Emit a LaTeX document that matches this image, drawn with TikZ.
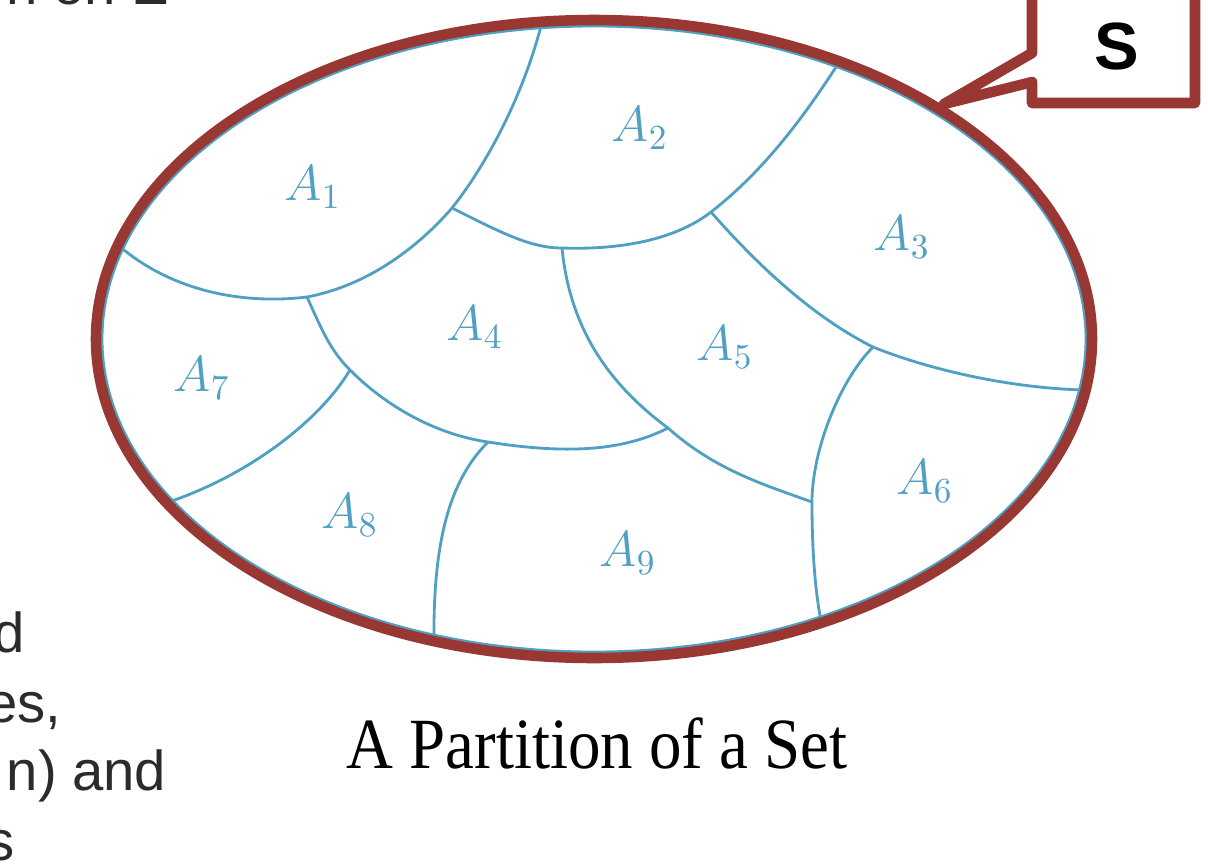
\documentclass[tikz,border=0pt]{standalone}
\usepackage{fontspec}
\newfontfamily\capfont{Liberation Serif}
\newfontfamily\slidefont{Liberation Sans}
\definecolor{setred}{HTML}{993833}
\definecolor{setblue}{HTML}{4FA0C2}
\definecolor{slidegray}{HTML}{2B2B2B}

\tikzstyle{border} = [draw=setred, line width=3pt]
\tikzstyle{cut} = [draw=setblue, line width=0.8pt]
\tikzstyle{part} = [text=setblue, font=\fontsize{14.5}{16}\selectfont]
\tikzstyle{frag} = [text=slidegray, font=\slidefont\fontsize{16}{19}\selectfont, anchor=base east, inner sep=0pt]

\begin{document}
\begin{tikzpicture}[x=0.01cm, y=-0.01cm]
\useasboundingbox (0,0) rectangle (1208,866);
\clip (0,0) rectangle (1208,866);

% where the cuts meet each other and the rim
\coordinate (e1) at (118,245);
\coordinate (t1) at (542,22);
\coordinate (t2) at (838,64);
\coordinate (e3) at (1084,390);
\coordinate (e7) at (166,503);
\coordinate (e8) at (434,641);
\coordinate (e6) at (821,621);
\coordinate (j14) at (307,297);
\coordinate (j12) at (452,208);
\coordinate (j45) at (562,248);
\coordinate (j23) at (711,212);
\coordinate (j36) at (873,347);
\coordinate (j47) at (350,370);
\coordinate (j48) at (488,442);
\coordinate (j49) at (668,428);
\coordinate (j56) at (812,502);

\draw[cut] (594,339) ellipse [x radius=492, y radius=313];

\draw[cut] (e1) .. controls (170,290) and (240,305) .. (j14)
    .. controls (370,285) and (420,245) .. (j12)
    .. controls (490,160) and (525,90) .. (t1);
\draw[cut] (j12) .. controls (500,232) and (530,248) .. (j45)
    .. controls (620,250) and (675,240) .. (j23)
    .. controls (765,170) and (805,115) .. (t2);
\draw[cut] (j23) .. controls (760,268) and (815,318) .. (j36)
    .. controls (930,370) and (1010,388) .. (e3);
\draw[cut] (j14) .. controls (322,330) and (330,350) .. (j47)
    .. controls (390,410) and (440,435) .. (j48)
    .. controls (570,455) and (625,450) .. (j49);
\draw[cut] (j47) .. controls (320,420) and (250,475) .. (e7);
\draw[cut] (j48) .. controls (450,480) and (433,540) .. (e8);
\draw[cut] (j45) .. controls (570,330) and (610,385) .. (j49)
    .. controls (715,470) and (765,485) .. (j56);
\draw[cut] (j36) .. controls (840,380) and (812,450) .. (j56)
    .. controls (812,550) and (815,590) .. (e6);

% the set S
\draw[border] (594,339) ellipse [x radius=498, y radius=319];

\node[part] (a1) at (313,187) {$A_1$};
\node[part] (a2) at (640,128) {$A_2$};
\node[part] (a3) at (902,237) {$A_3$};
\node[part] (a4) at (475,327) {$A_4$};
\node[part] (a5) at (725,347) {$A_5$};
\node[part] (a6) at (925,481) {$A_6$};
\node[part] (a7) at (202,378) {$A_7$};
\node[part] (a8) at (350,515) {$A_8$};
\node[part] (a9) at (628,553) {$A_9$};

% callout
\draw[border, fill=white, line join=round] (1032,-20) -- (1032,53) -- (944,104)
    -- (1032,82) |- (1195,103) -- (1195,-20);
\node[font=\slidefont\bfseries\fontsize{19}{22}\selectfont] (s) at (1117,46) {S};

\node[font=\capfont\fontsize{20.5}{24}\selectfont, xscale=0.9, anchor=base] (cap) at (597,768) {A Partition of a Set};

% slide text cut off at the edge
\node[frag] (f0) at (170,4) {n on E};
\node[frag] (f1) at (25,652) {d};
\node[frag] (f2) at (62,722) {es,};
\node[frag] (f3) at (167,790) {n) and};
\node[frag] (f4) at (15,860) {s};
\end{tikzpicture}
\end{document}
